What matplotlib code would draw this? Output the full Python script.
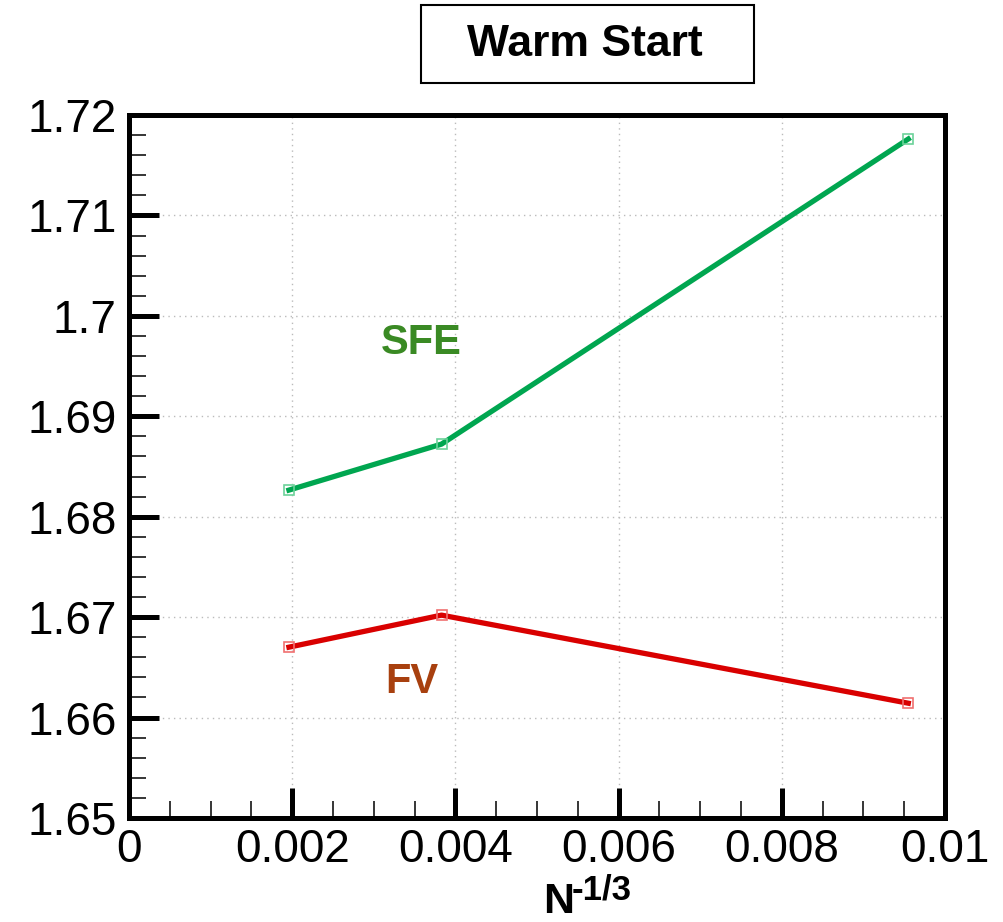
import matplotlib
matplotlib.use("Agg")
import matplotlib.pyplot as plt
from matplotlib.patches import Rectangle
from matplotlib.ticker import MultipleLocator, FuncFormatter

plt.rcParams['font.family'] = ['Liberation Sans', 'DejaVu Sans']

# Data
x_vals = [0.00196, 0.00383, 0.00955]
sfe = [1.68265, 1.68723, 1.71761]
fv = [1.66701, 1.67020, 1.66143]
x_ticks = [0, 0.002, 0.004, 0.006, 0.008, 0.01]
y_ticks = [1.65, 1.66, 1.67, 1.68, 1.69, 1.70, 1.71, 1.72]
title = "Warm Start"

W, H = 1004, 922
fig = plt.figure(figsize=(W / 100, H / 100), dpi=100)
ax = fig.add_axes([129 / W, 1 - 818 / H, (945 - 129) / W, (818 - 115) / H])

ax.plot(x_vals, sfe, color='#00A650', lw=3.8, marker='s', ms=7.5,
        mfc='none', mec='#6CD29A', mew=1.2, solid_joinstyle='round', zorder=3)
ax.plot(x_vals, fv, color='#D90000', lw=3.8, marker='s', ms=7.5,
        mfc='none', mec='#F07070', mew=1.2, solid_joinstyle='round', zorder=3)

ax.set_xlim(0, 0.01)
ax.set_ylim(1.65, 1.72)
ax.set_xticks(x_ticks)
ax.set_yticks(y_ticks)
ax.xaxis.set_minor_locator(MultipleLocator(0.0005))
ax.yaxis.set_minor_locator(MultipleLocator(0.002))
fmt = FuncFormatter(lambda v, p: '%g' % round(v, 6))
ax.xaxis.set_major_formatter(fmt)
ax.yaxis.set_major_formatter(fmt)

ax.tick_params(which='major', direction='in', length=21.6, width=3.6,
               labelsize=33, top=False, right=False)
ax.tick_params(which='minor', direction='in', length=12, width=1.1,
               top=False, right=False)
ax.tick_params(axis='y', which='major', pad=9)
ax.tick_params(axis='x', which='major', pad=7)

for s in ax.spines.values():
    s.set_linewidth(3.6)

ax.grid(True, which='major', linestyle=(0, (1, 3)), color='#BBBBBB', lw=1)
ax.set_axisbelow(True)

ax.text(0.003583, 1.69729, 'SFE', color='#3A8A24', fontsize=30,
        fontweight='bold', ha='center', va='center')
ax.text(0.00346, 1.66353, 'FV', color='#A8400F', fontsize=30,
        fontweight='bold', ha='center', va='center')

# x-axis label: N^-1/3
fig.text(543 / W, 1 - 913 / H, 'N', fontsize=31, fontweight='bold',
         ha='left', va='baseline')
fig.text(572 / W, 1 - 899 / H, '-1/3', fontsize=25, fontweight='bold',
         ha='left', va='baseline')

# Title box
fig.add_artist(Rectangle((421 / W, 1 - 83 / H), (754 - 421) / W, 78 / H,
                         transform=fig.transFigure, fill=False, lw=1.5,
                         edgecolor='black'))
fig.text(585 / W, 1 - 44 / H, title, fontsize=32, fontweight='bold',
         ha='center', va='center')

fig.savefig('out.png', dpi=100)
